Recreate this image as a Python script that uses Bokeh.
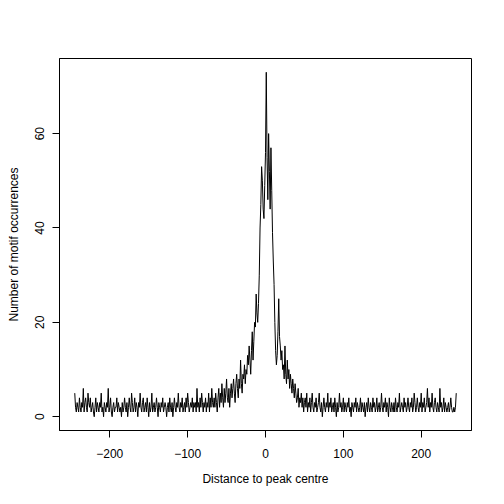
from bokeh.plotting import figure
from bokeh.models import Range1d, FixedTicker
from bokeh.embed import file_html
from bokeh.resources import INLINE

positions = list(range(-245, 246))
counts = [
    5,2,1,3,2,1,4,2,1,3,
    2,6,1,3,4,2,1,5,3,2,
    4,1,2,3,1,0,2,4,1,3,
    2,1,3,2,5,1,2,0,3,2,
    1,3,2,6,1,2,4,1,0,2,
    3,1,2,2,4,1,3,2,1,2,
    0,3,1,2,4,2,1,3,0,2,
    4,2,1,5,3,1,2,4,1,3,
    2,0,3,2,5,2,1,3,4,1,
    2,3,1,4,2,0,3,1,2,5,
    1,2,3,1,2,4,2,0,3,2,
    1,3,2,4,1,2,3,2,0,2,
    3,1,4,2,1,3,0,2,4,2,
    1,3,2,5,2,1,3,2,4,1,
    2,3,1,4,2,5,3,1,2,3,
    2,4,1,3,2,3,1,6,2,3,
    1,4,2,5,3,1,3,2,4,1,
    3,2,5,1,4,2,6,3,2,4,
    2,5,3,1,4,6,2,5,3,7,
    4,2,6,3,5,8,4,3,6,2,
    5,7,4,6,8,5,3,7,9,6,
    4,8,6,12,7,5,9,8,11,7,
    10,9,13,11,15,12,9,14,18,12,
    16,20,19,26,22,20,24,30,40,45,
    53,50,44,42,49,56,73,55,46,60,
    52,44,57,48,39,33,28,20,14,11,
    13,18,25,17,15,12,14,10,11,8,
    15,9,7,12,8,10,6,9,7,5,
    8,6,4,7,5,3,4,6,2,4,
    3,5,2,4,1,3,4,2,5,1,
    3,2,4,1,3,5,2,1,3,2,
    4,1,2,3,5,2,1,3,0,2,
    4,2,1,3,2,5,1,3,2,4,
    1,2,3,1,4,2,0,3,1,2,
    5,2,3,1,2,4,1,3,2,1,
    3,2,4,1,2,0,3,2,1,3,
    2,4,1,3,2,1,2,4,1,3,
    2,1,3,0,2,3,1,4,2,1,
    3,2,1,4,2,3,1,2,4,1,
    2,3,1,2,5,2,1,3,2,4,
    1,3,2,0,4,2,1,3,2,1,
    3,1,4,2,1,3,2,5,1,2,
    3,2,1,4,2,3,1,2,4,2,
    1,3,2,4,1,2,5,3,1,2,
    4,2,1,3,2,5,1,3,2,4,
    1,2,3,6,2,4,1,3,2,5,
    2,1,3,4,2,1,3,2,1,6,
    2,3,1,2,4,1,3,2,1,2,
    3,1,2,4,2,1,1,2,1,2,
    5,
]
assert len(counts) == len(positions)

x_ticks = [-200, -100, 0, 100, 200]
y_ticks = [0, 20, 40, 60]
x_title = "Distance to peak centre"
y_title = "Number of motif occurrences"

xpad = 0.04 * (max(positions) - min(positions))
ypad = 0.04 * (max(counts) - min(counts))

p = figure(width=488, height=488, output_backend="svg", toolbar_location=None,
           x_range=Range1d(min(positions) - xpad, max(positions) + xpad),
           y_range=Range1d(min(counts) - ypad, max(counts) + ypad),
           min_border_left=59, min_border_right=17, min_border_top=58, min_border_bottom=58)

p.line(positions, counts, line_color="black", line_width=1)

p.grid.visible = False
p.outline_line_color = "black"
p.outline_line_width = 1
p.background_fill_color = "white"
p.border_fill_color = "white"

font = "Liberation Sans"
for ax in (p.xaxis[0], p.yaxis[0]):
    ax.axis_line_color = "black"
    ax.major_tick_line_color = "black"
    ax.minor_tick_line_color = None
    ax.major_tick_in = 0
    ax.major_tick_out = 7
    ax.major_label_text_font = font
    ax.major_label_text_font_size = "12px"
    ax.major_label_text_color = "black"
    ax.axis_label_text_font = font
    ax.axis_label_text_font_size = "12px"
    ax.axis_label_text_font_style = "normal"
    ax.axis_label_text_color = "black"

p.xaxis.ticker = FixedTicker(ticks=x_ticks)
p.yaxis.ticker = FixedTicker(ticks=y_ticks)
p.xaxis.major_label_overrides = {t: (("\u2212" + str(-t)) if t < 0 else str(t)) for t in x_ticks}
p.xaxis.axis_label = x_title
p.yaxis.axis_label = y_title
p.yaxis.major_label_orientation = "vertical"
p.xaxis.major_label_standoff = 11
p.xaxis.axis_label_standoff = 11
p.yaxis.major_label_standoff = 8
p.yaxis.axis_label_standoff = 12

open("out.html", "w").write(file_html(p, INLINE))
